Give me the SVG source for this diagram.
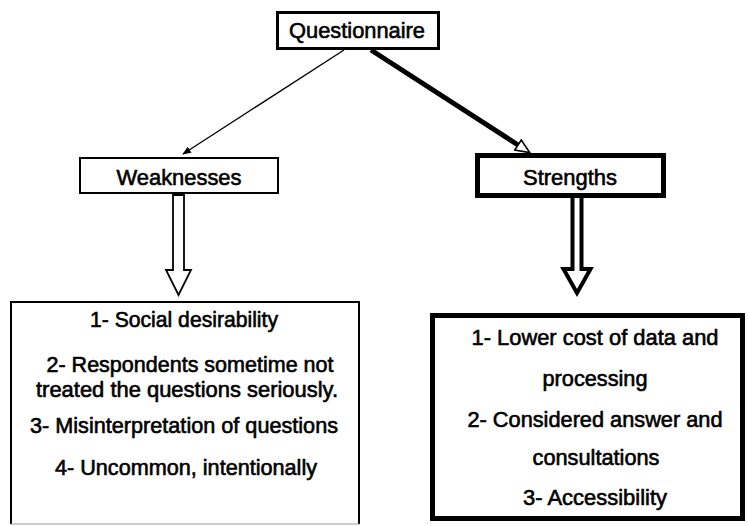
<svg xmlns="http://www.w3.org/2000/svg" width="748" height="526" viewBox="0 0 748 526">
  <style>
    .lbl { font-family: "Liberation Sans", Arial, sans-serif; font-size: 22px; fill: #000; stroke: #000; stroke-width: 0.6; text-anchor: middle; }
    .body { font-family: "Liberation Sans", Arial, sans-serif; font-size: 21.5px; fill: #000; stroke: #000; stroke-width: 0.6; text-anchor: middle; }
    .box { fill: #fff; stroke: #000; }
  </style>
  <defs>
    <marker id="headSolid" viewBox="0 0 10 8" refX="9" refY="4" markerWidth="9" markerHeight="7" markerUnits="userSpaceOnUse" orient="auto">
      <path d="M0,0 L10,4 L0,8 z" fill="#000"/>
    </marker>
    <marker id="headOpen" viewBox="0 0 16 14" refX="1" refY="7" markerWidth="16" markerHeight="14" markerUnits="userSpaceOnUse" orient="auto">
      <path d="M1,1 L15,7 L1,13 z" fill="#fff" stroke="#000" stroke-width="1.6" stroke-linejoin="miter"/>
    </marker>
  </defs>

  <rect width="748" height="526" fill="#fff"/>

  <!-- connectors -->
  <g id="connectors">
    <line x1="344" y1="50" x2="183" y2="154" stroke="#000" stroke-width="1.3" marker-end="url(#headSolid)"/>
    <line x1="371" y1="50" x2="518" y2="145" stroke="#000" stroke-width="5" marker-end="url(#headOpen)"/>
    <!-- block arrow below Weaknesses -->
    <polygon points="173,195 184,195 184,270 191,270 178.5,295 166,270 173,270" fill="#fff" stroke="#000" stroke-width="1.8" stroke-linejoin="miter"/>
    <!-- heavy block arrow below Strengths -->
    <polygon points="572.5,196 581.5,196 581.5,269 590.5,269 577,293 563.5,269 572.5,269" fill="#fff" stroke="#000" stroke-width="4" stroke-linejoin="miter"/>
  </g>

  <g id="questionnaire">
    <rect class="box" x="277.5" y="12.5" width="161" height="36" stroke-width="3"/>
    <text class="lbl" x="357" y="38" textLength="136" lengthAdjust="spacingAndGlyphs">Questionnaire</text>
  </g>

  <g id="weaknesses">
    <rect class="box" x="80" y="158" width="198" height="35" stroke-width="2"/>
    <text class="lbl" x="179" y="185" textLength="125" lengthAdjust="spacingAndGlyphs">Weaknesses</text>
  </g>

  <g id="strengths">
    <rect class="box" x="477.5" y="155.5" width="186" height="40" stroke-width="5"/>
    <text class="lbl" x="570" y="185" textLength="94" lengthAdjust="spacingAndGlyphs">Strengths</text>
  </g>

  <g id="weaknesses-list">
    <rect x="11" y="302" width="348" height="222" fill="#fff" stroke="none"/>
    <path d="M11,524 V302 H359 V524" fill="none" stroke="#000" stroke-width="2"/>
    <line x1="11" y1="524" x2="359" y2="524" stroke="#9a9a9a" stroke-width="1.2"/>
    <text class="body" x="184" y="327" textLength="188" lengthAdjust="spacingAndGlyphs">1- Social desirability</text>
    <text class="body" x="190" y="372" textLength="287" lengthAdjust="spacingAndGlyphs">2- Respondents sometime not</text>
    <text class="body" x="187" y="397" textLength="302" lengthAdjust="spacingAndGlyphs">treated the questions seriously.</text>
    <text class="body" x="184" y="433" textLength="308" lengthAdjust="spacingAndGlyphs">3- Misinterpretation of questions</text>
    <text class="body" x="186" y="475" textLength="262" lengthAdjust="spacingAndGlyphs">4- Uncommon, intentionally</text>
  </g>

  <g id="strengths-list">
    <rect class="box" x="432.5" y="315.5" width="310" height="203" stroke-width="5"/>
    <text class="body" x="595" y="345" textLength="247" lengthAdjust="spacingAndGlyphs">1- Lower cost of data and</text>
    <text class="body" x="595" y="386" textLength="105" lengthAdjust="spacingAndGlyphs">processing</text>
    <text class="body" x="595" y="427" textLength="255" lengthAdjust="spacingAndGlyphs">2- Considered answer and</text>
    <text class="body" x="596" y="465" textLength="127" lengthAdjust="spacingAndGlyphs">consultations</text>
    <text class="body" x="595" y="505" textLength="144" lengthAdjust="spacingAndGlyphs">3- Accessibility</text>
  </g>
</svg>
